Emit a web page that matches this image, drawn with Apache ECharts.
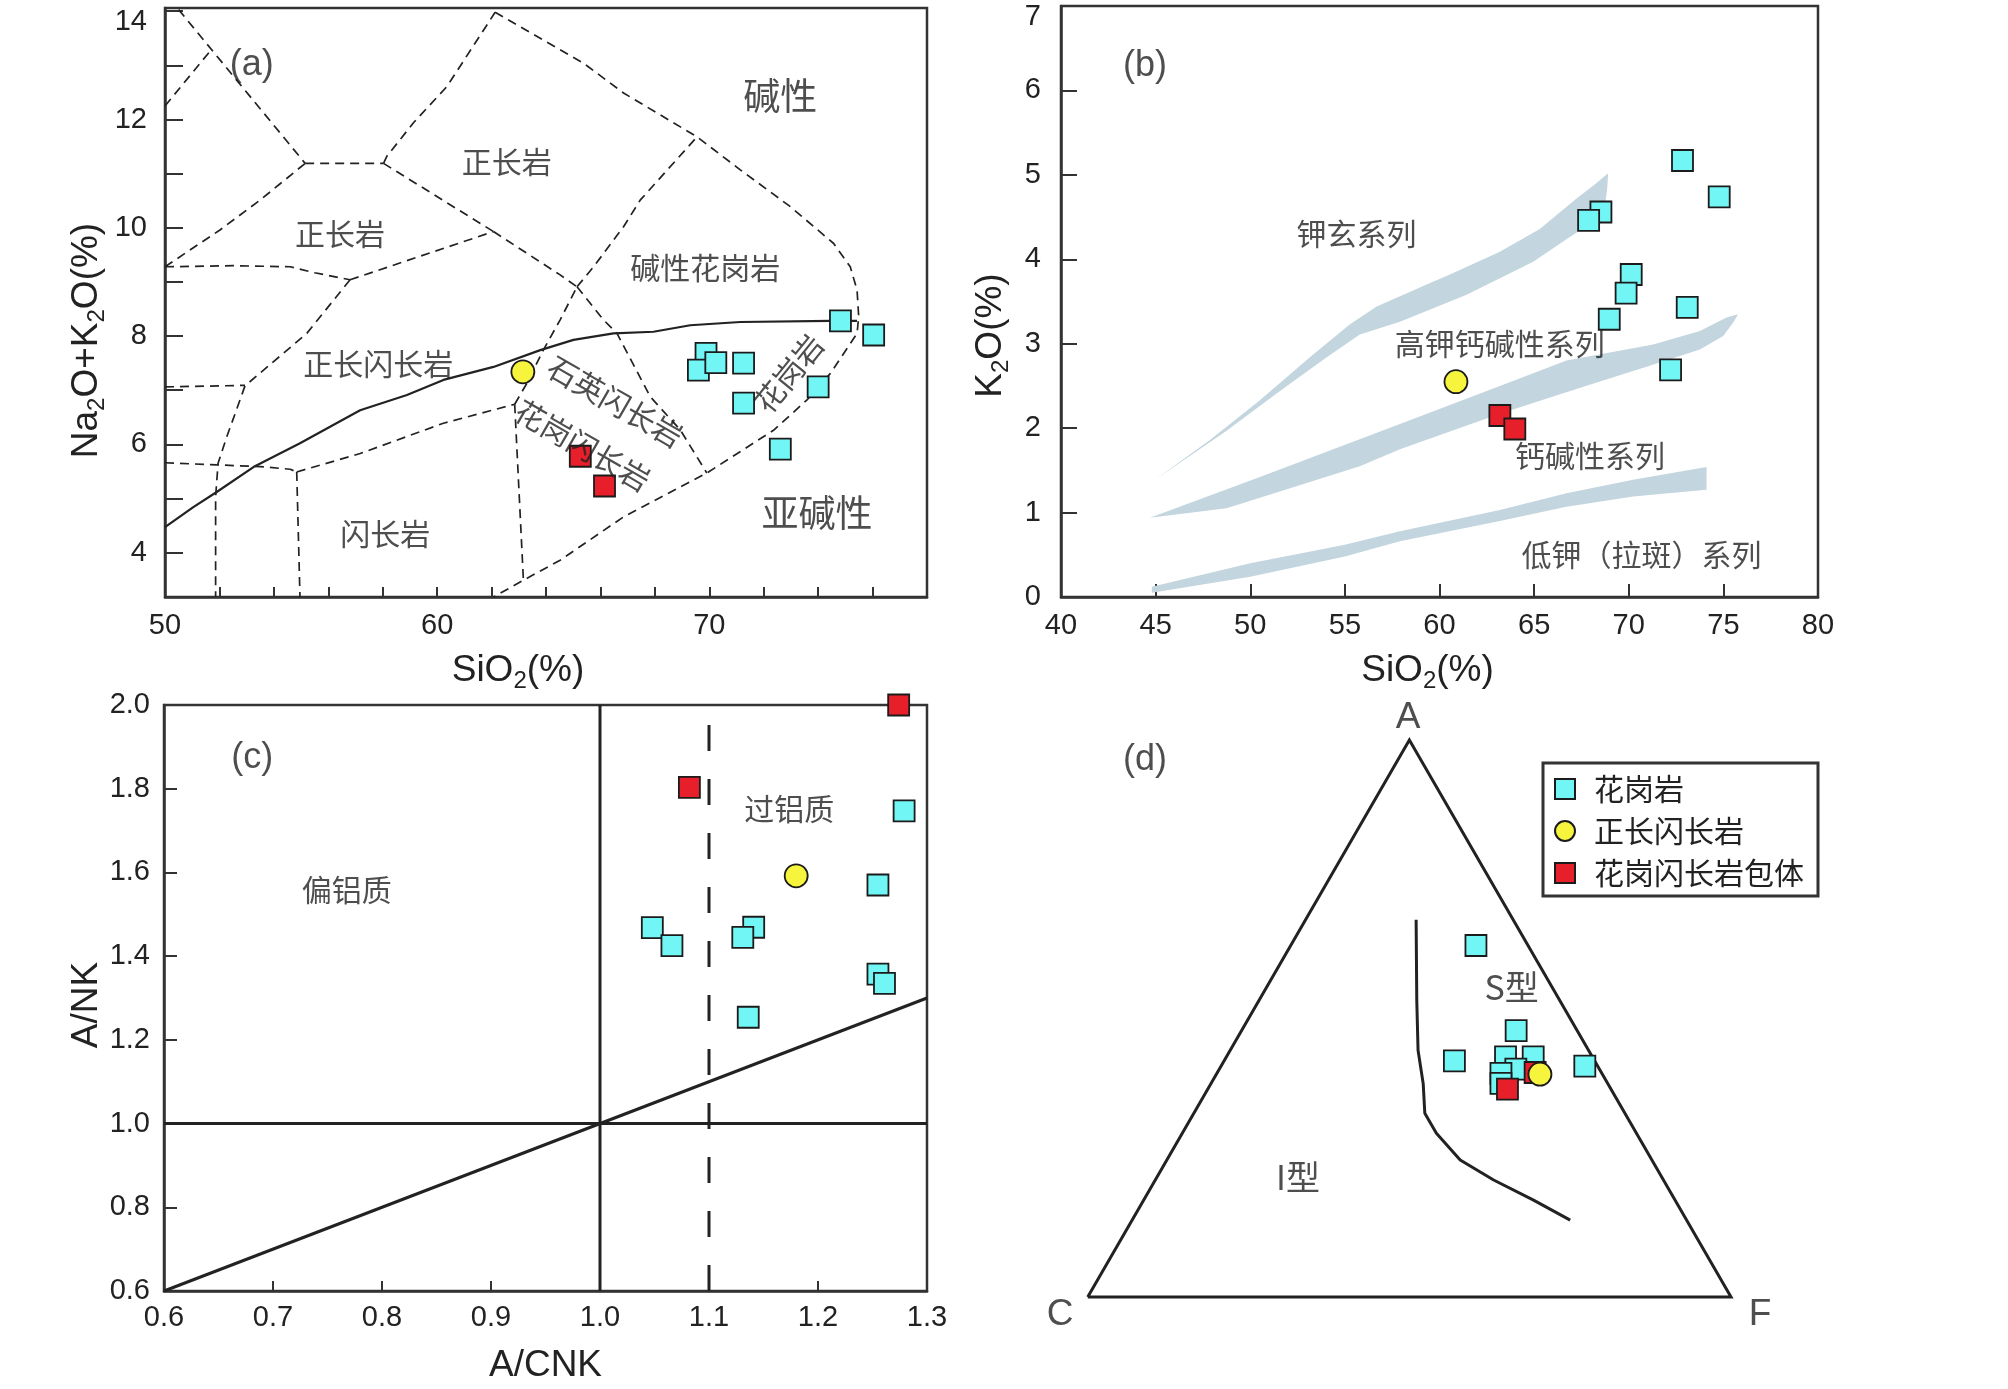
<!DOCTYPE html>
<html><head><meta charset="utf-8">
<script src="https://cdn.jsdelivr.net/npm/echarts@6/dist/echarts.min.js"></script>
<style>html,body{margin:0;padding:0;background:#fff}#c{width:2008px;height:1389px}</style>
</head><body><div id="c"></div>
<script>
// ---------- Panel (a): TAS diagram ----------
const tasGranite = [[74.82,8.28],[76.04,8.02],[69.88,7.68],[69.60,7.37],[70.24,7.51],[71.26,7.50],[74.00,7.06],[71.26,6.76],[72.61,5.91]];
const tasSyenodiorite = [[63.15,7.34]];
const tasEnclave = [[65.26,5.78],[66.15,5.23]];
const tasAlkalineLine = [[50,4.47],[51.04,4.84],[51.9,5.12],[53.25,5.58],[54.96,6.02],[57.17,6.63],[58.89,6.91],[60.23,7.19],[62.07,7.43],[63.79,7.74],[65.01,7.93],[66.48,8.05],[67.95,8.08],[69.30,8.20],[71.14,8.26],[74.45,8.28],[75.43,8.28]];
const tasFieldLines = [
 [[50.5,14.03],[55.15,11.19]],
 [[50,12.25],[51.7,13.29]],
 [[55.15,11.19],[58.03,11.19]],
 [[58.03,11.19],[58.15,11.32],[59.13,11.94],[60.36,12.61],[62.13,13.98]],
 [[62.13,13.98],[64.52,13.29],[65.38,13.04],[66.85,12.49],[69.55,11.68],[71.14,11.07],[72.98,10.39],[74.57,9.71],[75.18,9.28],[75.43,8.85],[75.49,8.36],[75.43,8.05],[74.45,7.31],[73.59,6.82],[72.36,6.26],[69.91,5.47],[66.85,4.66],[64.52,3.86],[63.17,3.49],[62.07,3.18]],
 [[58.03,11.19],[62.07,9.93]],
 [[62.07,9.93],[64.52,9.13],[65.14,8.91]],
 [[50,9.28],[52.5,9.30],[54.6,9.28],[55.5,9.17],[56.8,9.04]],
 [[50,9.28],[52.02,9.96],[53.49,10.51],[55.15,11.19]],
 [[56.8,9.04],[62.07,9.93]],
 [[56.8,9.04],[55.21,8.05],[52.94,7.08],[52.6,6.6],[52.27,6.14],[51.95,5.65],[51.86,5.03],[51.86,3.18]],
 [[50,7.06],[52.94,7.09]],
 [[50,5.66],[51.9,5.62],[53.49,5.59],[54.6,5.54],[54.84,5.49]],
 [[54.84,5.49],[54.96,3.18]],
 [[54.84,5.49],[57.17,5.83],[60.23,6.39],[62.85,6.74]],
 [[62.85,6.74],[63.17,3.49]],
 [[62.85,6.74],[63.3,7.13],[63.9,7.74],[64.52,8.30],[65.14,8.91]],
 [[65.14,8.91],[65.75,9.28],[66.85,10.02],[67.46,10.51],[69.55,11.68]],
 [[65.14,8.91],[66.11,8.30],[66.61,8.05],[67.83,6.88],[68.93,6.27],[69.91,5.47]]
];
const tasLabelText = ['(a)','正长岩','正长岩','正长闪长岩','闪长岩','碱性','碱性花岗岩','石英闪长岩','花岗闪长岩','花岗岩','亚碱性'];
const tasLabelAt = [[53.19,13.01],[62.56,11.23],[56.43,9.90],[57.84,7.50],[58.09,4.36],[72.61,12.43],[69.85,9.26],[66.54,6.79],[65.35,5.98],[72.92,7.31],[73.96,4.73]];
const tasLabelRotate = [0,0,0,0,0,0,0,-30,-30,51,0];
const tasXTicks = [52,54,56,58,60,62,64,66,68,70,72,74,76];
const tasXLabels = [50,60,70];
const tasYTicks = [4,5,6,7,8,9,10,11,12,13,14];
const tasYLabels = [4,6,8,10,12,14];

// ---------- Panel (b): SiO2-K2O ----------
const kGranite = [[72.84,5.17],[74.78,4.74],[68.53,4.56],[67.88,4.46],[70.13,3.82],[69.86,3.60],[68.97,3.29],[73.09,3.43],[72.21,2.69]];
const kSyenodiorite = [[60.87,2.55]];
const kEnclave = [[63.19,2.15],[63.98,1.99]];
const bandShoUpper = [[44.97,1.39],[47.87,1.86],[50.51,2.33],[53.15,2.84],[55.27,3.23],[56.68,3.44],[59.32,3.70],[60.55,3.82],[63.19,4.09],[65.30,4.36],[67.24,4.72],[68.12,4.87],[68.91,5.02]];
const bandShoLower = [[44.97,1.39],[48.75,1.97],[51.39,2.41],[54.04,2.84],[55.79,3.11],[57.91,3.26],[61.43,3.58],[64.95,3.97],[67.06,4.29],[68.12,4.44],[68.74,4.64],[68.86,4.83]];
const bandHkUpper = [[44.7,0.94],[50.51,1.42],[57.91,2.05],[63.19,2.50],[66.71,2.80],[71.29,2.99],[73.76,3.15],[75.17,3.31],[75.78,3.35]];
const bandHkLower = [[44.7,0.94],[48.75,1.05],[55.79,1.55],[57.91,1.75],[63.19,2.17],[67.6,2.49],[71.11,2.74],[73.76,2.93],[74.99,3.09],[75.52,3.25],[75.78,3.35]];
const bandLkUpper = [[44.8,0.12],[50,0.40],[55,0.62],[57.91,0.78],[63.19,1.03],[66.71,1.23],[70.23,1.39],[74.11,1.54]];
const bandLkLower = [[44.8,0.05],[50,0.24],[55,0.48],[57.91,0.66],[63.19,0.90],[66.71,1.07],[70.23,1.19],[74.11,1.27]];
const kLabelText = ['(b)','钾玄系列','高钾钙碱性系列','钙碱性系列','低钾（拉斑）系列'];
const kLabelAt = [[44.44,6.29],[55.62,4.30],[63.19,3.00],[67.95,1.68],[70.68,0.50]];

// ---------- Panel (c): A/CNK - A/NK ----------
const acnkGranite = [[1.279,1.747],[1.255,1.570],[1.048,1.468],[1.066,1.425],[1.141,1.469],[1.131,1.445],[1.255,1.357],[1.261,1.335],[1.136,1.254]];
const acnkSyenodiorite = [[1.180,1.592]];
const acnkEnclave = [[1.274,2.0],[1.082,1.803]];
const acnkSolidLines = [ [[1.0,0.6],[1.0,2.0]], [[0.6,1.0],[1.3,1.0]], [[0.6,0.6],[1.3,1.3]] ];
const acnkDashedLine = [[1.1,0.6],[1.1,2.0]];
const acnkLabelText = ['(c)','偏铝质','过铝质'];
const acnkLabelAt = [[0.681,1.873],[0.7676,1.56],[1.1737,1.753]];
const acnkXTicks = [0.7,0.8,0.9,1.0,1.1,1.2];
const acnkXLabels = [0.6,0.7,0.8,0.9,1.0,1.1,1.2,1.3];
const acnkYTicks = [0.8,1.0,1.2,1.4,1.6,1.8];
const acnkYLabels = [0.6,0.8,1.0,1.2,1.4,1.6,1.8,2.0];

// ---------- Panel (d): ACF ternary [A, C, F] ----------
const acfGranite = [[63.1,8.1,28.8],[47.8,9.5,42.7],[42.4,21.8,35.8],[43.1,13.5,43.4],[43.1,9.2,47.7],[40.9,13.0,46.1],[40.2,15.7,44.2],[38.4,16.6,45.1],[41.5,2.0,56.6]];
const acfSyenodiorite = [[40.0,9.7,50.3]];
const acfEnclave = [[37.3,16.1,46.6],[40.3,10.3,49.4]];
const acfTriangle = [[0,100,0],[100,0,0],[0,0,100],[0,100,0]];
const acfBoundary = [[67.7,15.1,17.2],[53.3,22.2,24.5],[44.3,26.5,29.2],[38.3,28.7,33.0],[33.0,31.1,35.9],[29.4,31.1,39.5],[24.6,29.8,45.6],[21.0,26.4,52.6],[17.4,22.0,60.6],[13.8,18.1,68.1]];
const acfLabelText = ['(d)','A','C','F','S型','I型'];
const acfLabelAt = [[0.089,0.835],[0.498,0.90],[-0.043,-0.028],[1.045,-0.028],[0.659,0.482],[0.327,0.187]];

// ---------- build ----------
const LAT = "'Liberation Sans', 'Noto Sans CJK SC', sans-serif";
const CJK = "'Noto Sans CJK SC', 'Liberation Sans', sans-serif";
const INK = '#222';
const AX = '#333';
const C_CYAN = '#72f5f5', C_YEL = '#f6f43c', C_RED = '#e61f2a';
const TICK_FS = 29, NAME_FS = 37, SUB_FS = 24, REGION_FS = 30, PANEL_FS = 36;
const S3 = Math.sqrt(3) / 2;
function tern(p) { const s = p[0] + p[1] + p[2]; const a = p[0] / s, f = p[2] / s; return [f + a / 2, a * S3]; }

function lineS(data, gi, style) {
  return { type: 'line', xAxisIndex: gi, yAxisIndex: gi, data: data, symbol: 'none', showSymbol: false,
    silent: true, animation: false, lineStyle: style, z: 2 };
}
function labelS(texts, at, gi, styler) {
  return { type: 'scatter', xAxisIndex: gi, yAxisIndex: gi, symbolSize: 0, silent: true, clip: false, animation: false, z: 6,
    data: at.map((p, i) => { const st = styler(i); return { value: p, label: Object.assign({ show: true, position: 'inside', formatter: texts[i], color: INK }, st) }; }) };
}
function ptsS(name, data, gi, symbol, color, size) {
  return { type: 'scatter', name: name, xAxisIndex: gi, yAxisIndex: gi, data: data, symbol: symbol, symbolSize: size,
    clip: false, animation: false, z: 5, itemStyle: { color: color, borderColor: '#1b1b1b', borderWidth: 1.8, opacity: 1 } };
}
function bandS(upper, lower, gi) {
  const poly = upper.concat(lower.slice().reverse());
  return { type: 'custom', xAxisIndex: gi, yAxisIndex: gi, data: poly, silent: true, animation: false, z: 1,
    renderItem: function (params, api) {
      if (params.dataIndex !== 0) return null;
      return { type: 'polygon', shape: { points: poly.map(p => api.coord(p)) }, style: { fill: '#c3d5de', stroke: null } };
    } };
}
const nameRich = { n: { fontFamily: LAT, fontSize: NAME_FS, color: INK }, s: { fontFamily: LAT, fontSize: SUB_FS, color: INK, padding: [20, 0, 0, 0] } };
const tickRich = { t: { fontFamily: LAT, fontSize: TICK_FS, color: INK, padding: [22, 0, 0, 0] } };
function axisBase(gi) {
  return { gridIndex: gi, type: 'value', splitLine: { show: false },
    axisLine: { show: true, onZero: false, lineStyle: { color: AX, width: 2.5 } },
    axisTick: { show: true, inside: true, lineStyle: { color: AX, width: 2 } },
    axisLabel: { fontFamily: LAT, fontSize: TICK_FS, color: INK, showMinLabel: true, showMaxLabel: true, rich: tickRich },
    nameLocation: 'middle', nameTextStyle: { fontFamily: LAT, fontSize: NAME_FS, color: INK, rich: nameRich } };
}
function merge(a, b) { for (const k in b) { if (b[k] && typeof b[k] === 'object' && !Array.isArray(b[k]) && a[k]) merge(a[k], b[k]); else a[k] = b[k]; } return a; }

const gridStyle = { show: true, borderColor: AX, borderWidth: 2.5, backgroundColor: 'transparent', containLabel: false, outerBoundsMode: 'none' };
const grids = [
  Object.assign({ left: 165, top: 8, width: 762, height: 589 }, gridStyle),
  Object.assign({ left: 1061, top: 6, width: 757, height: 591 }, gridStyle),
  Object.assign({ left: 164, top: 705, width: 763, height: 586 }, gridStyle),
  { left: 1023.4, top: 685.9, width: 804.1, height: 649.7, show: false, containLabel: false, outerBoundsMode: 'none' }
];

const xAxes = [
  merge(axisBase(0), { min: 50, max: 78, axisTick: { length: 10, customValues: tasXTicks }, axisLabel: { customValues: tasXLabels, margin: 14 },
    name: '{n|SiO}{s|2}{n|(%)}', nameGap: 52, nameTextStyle: { padding: [0, 56, 0, 0] } }),
  merge(axisBase(1), { min: 40, max: 80, interval: 5, axisTick: { length: 13 }, axisLabel: { margin: 14 },
    name: '{n|SiO}{s|2}{n|(%)}', nameGap: 52, nameTextStyle: { padding: [0, 24, 0, 0] } }),
  merge(axisBase(2), { min: 0.6, max: 1.3, axisTick: { length: 10, customValues: acnkXTicks }, axisLabel: { customValues: acnkXLabels, margin: 12, formatter: v => (+v).toFixed(1) },
    name: 'A/CNK', nameGap: 56 }),
  { gridIndex: 3, type: 'value', min: -0.1, max: 1.15, show: false }
];
const yAxes = [
  merge(axisBase(0), { min: 3.18, max: 14.06, axisTick: { length: 18, customValues: tasYTicks }, axisLabel: { customValues: tasYLabels, margin: 18, formatter: v => (+v === 14 ? '{t|14}' : String(v)) },
    name: '{n|Na}{s|2}{n|O+K}{s|2}{n|O(%)}', nameRotate: 90, nameGap: 56, nameTextStyle: { padding: [0, 76, 0, 0] } }),
  merge(axisBase(1), { min: 0, max: 7, interval: 1, axisTick: { length: 16 }, axisLabel: { margin: 20, formatter: v => (+v === 7 ? '{t|7}' : String(v)) },
    name: '{n|K}{s|2}{n|O(%)}', nameRotate: 90, nameGap: 48, nameTextStyle: { padding: [0, 68, 0, 0] } }),
  merge(axisBase(2), { min: 0.6, max: 2.0, axisTick: { length: 13, customValues: acnkYTicks }, axisLabel: { customValues: acnkYLabels, margin: 14, formatter: v => (+v).toFixed(1) },
    name: 'A/NK', nameRotate: 90, nameGap: 58, nameTextStyle: { padding: [0, 14, 0, 0] } }),
  { gridIndex: 3, type: 'value', min: -0.06, max: 0.95, show: false }
];

const series = [];
const dashStyle = { color: INK, width: 1.7, type: [9, 6] };
tasFieldLines.forEach(l => series.push(lineS(l, 0, dashStyle)));
series.push(lineS(tasAlkalineLine, 0, { color: INK, width: 2.2 }));
series.push(labelS(tasLabelText, tasLabelAt, 0, i => ({
  rotate: tasLabelRotate[i],
  fontSize: i === 0 ? PANEL_FS : (i === 5 || i === 10 ? 37 : REGION_FS),
  fontFamily: i === 0 ? LAT : CJK })));

series.push(bandS(bandShoUpper, bandShoLower, 1));
series.push(bandS(bandHkUpper, bandHkLower, 1));
series.push(bandS(bandLkUpper, bandLkLower, 1));
series.push(labelS(kLabelText, kLabelAt, 1, i => ({ fontSize: i === 0 ? PANEL_FS : REGION_FS, fontFamily: i === 0 ? LAT : CJK })));

acnkSolidLines.forEach(l => series.push(lineS(l, 2, { color: INK, width: 3 })));
series.push(lineS(acnkDashedLine, 2, { color: INK, width: 3, type: [26, 28] }));
series.push(labelS(acnkLabelText, acnkLabelAt, 2, i => ({ fontSize: i === 0 ? PANEL_FS : REGION_FS, fontFamily: i === 0 ? LAT : CJK })));

series.push(lineS(acfTriangle.map(tern), 3, { color: INK, width: 3, join: 'miter' }));
series.push(lineS(acfBoundary.map(tern), 3, { color: INK, width: 3 }));
series.push(labelS(acfLabelText, acfLabelAt, 3, i => ({ fontSize: i === 0 ? PANEL_FS : (i <= 3 ? 37 : 34), fontFamily: (i <= 3) ? LAT : CJK })));

const groups = [
  [tasGranite, tasEnclave, tasSyenodiorite],
  [kGranite, kEnclave, kSyenodiorite],
  [acnkGranite, acnkEnclave, acnkSyenodiorite],
  [acfGranite.map(tern), acfEnclave.map(tern), acfSyenodiorite.map(tern)]
];
groups.forEach((g, gi) => {
  series.push(ptsS('花岗岩', g[0], gi, 'rect', C_CYAN, 21));
  series.push(ptsS('花岗闪长岩包体', g[1], gi, 'rect', C_RED, 21));
  series.push(ptsS('正长闪长岩', g[2], gi, 'circle', C_YEL, 23));
});

const chart = echarts.init(document.getElementById('c'), null, { renderer: 'canvas' });
chart.setOption({
  backgroundColor: '#fff',
  animation: false,
  grid: grids, xAxis: xAxes, yAxis: yAxes, series: series,
  legend: { orient: 'vertical', left: 1543, top: 763, padding: [11, 14, 8, 11], itemGap: 12, itemWidth: 20, itemHeight: 20,
    borderColor: AX, borderWidth: 3, selectedMode: false,
    data: [{ name: '花岗岩', icon: 'rect' }, { name: '正长闪长岩', icon: 'circle' }, { name: '花岗闪长岩包体', icon: 'rect' }],
    textStyle: { fontSize: 30, fontFamily: CJK, color: INK, padding: [0, 0, 0, 14] } }
});
</script>
</body></html>
